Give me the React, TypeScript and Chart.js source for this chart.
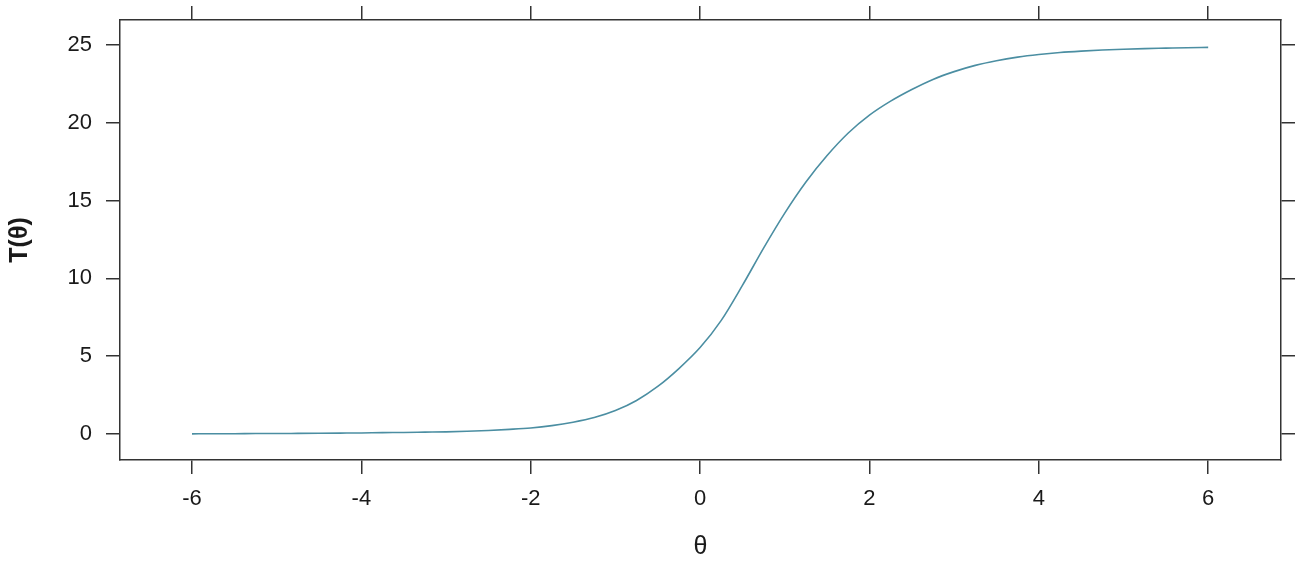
import React, { useEffect, useRef } from "react";
import { Chart, registerables } from "chart.js";

Chart.register(...registerables);

const thetaValues: number[] = [
  -6.0, -5.75, -5.5, -5.25, -5.0, -4.75, -4.5, -4.25, -4.0, -3.75, -3.5, -3.25,
  -3.0, -2.75, -2.5, -2.25, -2.0, -1.75, -1.5, -1.25, -1.0, -0.75, -0.5, -0.25,
  0.0, 0.25, 0.5, 0.75, 1.0, 1.25, 1.5, 1.75, 2.0, 2.25, 2.5, 2.75, 3.0, 3.25,
  3.5, 3.75, 4.0, 4.25, 4.5, 4.75, 5.0, 5.25, 5.5, 5.75, 6.0,
];

const tValues: number[] = [
  0.0, 0.01, 0.01, 0.02, 0.02, 0.03, 0.04, 0.05, 0.06, 0.08, 0.09, 0.11,
  0.13, 0.17, 0.22, 0.29, 0.38, 0.53, 0.75, 1.05, 1.5, 2.15, 3.05, 4.2,
  5.55, 7.3, 9.55, 11.95, 14.2, 16.2, 17.9, 19.35, 20.5, 21.4, 22.15, 22.8, 23.3, 23.7,
  24.0, 24.23, 24.4, 24.53, 24.62, 24.69, 24.74, 24.78, 24.81, 24.84, 24.86,
];

const xTicks: number[] = [-6, -4, -2, 0, 2, 4, 6];
const yTicks: number[] = [0, 5, 10, 15, 20, 25];

const X_MIN = -6.85;
const X_MAX = 6.86;
const Y_MIN = -1.68;
const Y_MAX = 26.62;

const AXIS_COLOR = "#333333";
const LINE_COLOR = "#4b8ea2";
const FONT = "'Liberation Sans', Arial, sans-serif";

export default function App() {
  const canvasRef = useRef<HTMLCanvasElement | null>(null);

  useEffect(() => {
    const canvas = canvasRef.current;
    if (!canvas) return;

    const setTicks = (vals: number[]) => (scale: any) => {
      scale.ticks = vals.map((v) => ({ value: v }));
    };
    const fixSize = (w: number | null, h: number | null) => (scale: any) => {
      if (w !== null) scale.width = w;
      if (h !== null) scale.height = h;
      scale.paddingTop = 0;
      scale.paddingBottom = 0;
      scale.paddingLeft = 0;
      scale.paddingRight = 0;
    };

    const gridOpts = {
      display: true,
      drawOnChartArea: false,
      drawTicks: true,
      tickLength: 14,
      color: AXIS_COLOR,
      lineWidth: 1.5,
    };
    const borderOpts = { display: true, color: AXIS_COLOR, width: 1.5 };

    const chart = new Chart(canvas, {
      type: "line",
      data: {
        labels: thetaValues,
        datasets: [
          {
            data: thetaValues.map((t, i) => ({ x: t, y: tValues[i] })),
            borderColor: LINE_COLOR,
            borderWidth: 1.6,
            pointRadius: 0,
            fill: false,
            cubicInterpolationMode: "monotone",
          },
        ],
      },
      options: {
        animation: false,
        responsive: false,
        layout: { padding: 0 },
        plugins: { legend: { display: false }, tooltip: { enabled: false } },
        scales: {
          x: {
            type: "linear",
            position: "bottom",
            min: X_MIN,
            max: X_MAX,
            afterBuildTicks: setTicks(xTicks),
            afterFit: fixSize(null, 102),
            grid: gridOpts,
            border: borderOpts,
            ticks: {
              font: { family: FONT, size: 22 },
              color: "#1a1a1a",
              padding: 12,
              maxRotation: 0,
            },
            title: {
              display: true,
              text: "θ",
              font: { family: FONT, size: 25 },
              color: "#1a1a1a",
              padding: { top: 0, bottom: 0 },
            },
          },
          x2: {
            type: "linear",
            position: "top",
            min: X_MIN,
            max: X_MAX,
            afterBuildTicks: setTicks(xTicks),
            afterFit: fixSize(null, 20),
            grid: gridOpts,
            border: borderOpts,
            ticks: { display: false },
          },
          y: {
            type: "linear",
            position: "left",
            min: Y_MIN,
            max: Y_MAX,
            afterBuildTicks: setTicks(yTicks),
            afterFit: fixSize(120, null),
            grid: gridOpts,
            border: borderOpts,
            ticks: {
              font: { family: FONT, size: 22 },
              color: "#1a1a1a",
              padding: 14,
            },
            title: {
              display: true,
              text: "T(θ)",
              font: { family: FONT, size: 25, weight: "bold" },
              color: "#1a1a1a",
              padding: { top: 5, bottom: 0 },
            },
          },
          y2: {
            type: "linear",
            position: "right",
            min: Y_MIN,
            max: Y_MAX,
            afterBuildTicks: setTicks(yTicks),
            afterFit: fixSize(18, null),
            grid: gridOpts,
            border: borderOpts,
            ticks: { display: false },
          },
        },
      },
    });

    return () => chart.destroy();
  }, []);

  return (
    <div style={{ position: "absolute", left: 0, top: 0, width: 1299, height: 562, background: "#ffffff" }}>
      <canvas ref={canvasRef} width={1299} height={562} style={{ display: "block" }} />
    </div>
  );
}
